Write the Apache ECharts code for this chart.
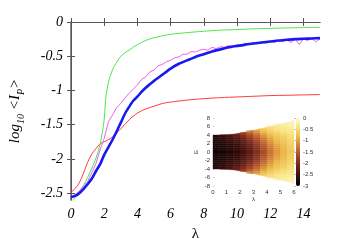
<!DOCTYPE html>
<html>
<head>
<meta charset="utf-8">
<script src="https://cdn.jsdelivr.net/npm/echarts@6/dist/echarts.min.js"></script>
<style>html,body{margin:0;padding:0;background:#fff}#c{width:349px;height:247px}</style>
</head>
<body>
<div id="c"></div>
<script>
// ---- main chart data ----
const xTicks = [0, 2, 4, 6, 8, 10, 12, 14];
const yTicks = [0, -0.5, -1, -1.5, -2, -2.5];

const greenLambda = [0, 0.25, 0.5, 0.75, 1, 1.25, 1.5, 1.75, 1.9, 2.0, 2.1, 2.2, 2.3, 2.45, 2.6, 2.8, 3.0, 3.25, 3.5, 4, 4.5, 5, 6, 7, 8, 9, 10, 11, 12, 13, 14, 15];
const greenLog    = [-2.66, -2.56, -2.47, -2.39, -2.27, -2.14, -1.99, -1.79, -1.60, -1.42, -1.10, -0.95, -0.84, -0.73, -0.65, -0.57, -0.50, -0.45, -0.41, -0.33, -0.27, -0.23, -0.18, -0.155, -0.135, -0.12, -0.11, -0.10, -0.093, -0.087, -0.082, -0.078];

const redLambda = [0, 0.25, 0.5, 0.75, 1, 1.25, 1.5, 1.75, 2, 2.25, 2.5, 2.75, 3, 3.5, 4, 4.5, 5, 5.5, 6, 7, 8, 9, 10, 11, 12, 13, 14, 15];
const redLog    = [-2.49, -2.43, -2.35, -2.21, -2.05, -1.93, -1.85, -1.78, -1.75, -1.72, -1.68, -1.62, -1.56, -1.43, -1.33, -1.27, -1.23, -1.19, -1.17, -1.14, -1.12, -1.105, -1.095, -1.085, -1.075, -1.07, -1.065, -1.06];

const blueLambda = [0, 0.25, 0.5, 0.75, 1, 1.25, 1.5, 1.75, 2, 2.25, 2.5, 2.75, 3, 3.25, 3.5, 3.75, 4, 4.25, 4.5, 4.75, 5, 5.5, 6, 6.5, 7, 7.5, 8, 8.5, 9, 9.5, 10, 10.5, 11, 11.5, 12, 12.5, 13, 13.5, 14, 14.5, 15];
const blueLog    = [-2.56, -2.54, -2.50, -2.44, -2.37, -2.29, -2.18, -2.08, -1.94, -1.83, -1.72, -1.60, -1.47, -1.34, -1.24, -1.15, -1.09, -1.02, -0.96, -0.91, -0.86, -0.77, -0.68, -0.61, -0.56, -0.51, -0.47, -0.43, -0.40, -0.37, -0.35, -0.33, -0.315, -0.30, -0.285, -0.27, -0.26, -0.25, -0.245, -0.24, -0.235];

const magentaLambda = [0, 0.25, 0.5, 0.75, 1, 1.25, 1.5, 1.75, 2, 2.25, 2.5, 2.75, 3, 3.25, 3.5, 3.75, 4, 4.25, 4.5, 4.75, 5, 5.25, 5.5, 5.75, 6, 6.25, 6.5, 6.75, 7, 7.25, 7.5, 7.75, 8, 8.25, 8.5, 8.75, 9, 9.25, 9.5, 9.75, 10, 10.25, 10.5, 10.75, 11, 11.25, 11.5, 11.75, 12, 12.25, 12.5, 12.75, 13, 13.25, 13.5, 13.75, 14, 14.25, 14.5, 14.75, 15];
const magentaLog    = [-2.55, -2.52, -2.47, -2.40, -2.33, -2.20, -2.07, -1.87, -1.70, -1.46, -1.36, -1.25, -1.19, -1.11, -1.04, -0.98, -0.92, -0.84, -0.80, -0.73, -0.70, -0.64, -0.62, -0.58, -0.56, -0.52, -0.51, -0.47, -0.47, -0.43, -0.44, -0.41, -0.40, -0.41, -0.37, -0.39, -0.36, -0.37, -0.34, -0.36, -0.33, -0.35, -0.31, -0.33, -0.30, -0.32, -0.29, -0.31, -0.28, -0.30, -0.27, -0.29, -0.26, -0.30, -0.25, -0.33, -0.25, -0.27, -0.24, -0.29, -0.24];

// ---- inset data ----
const cellLambdaEdges = [0, 0.5, 1, 1.5, 2, 2.5, 3, 3.5, 4, 4.5, 5, 5.5, 6];
const edgeHalfWidth   = [4.0, 4.0, 4.05, 4.2, 4.45, 4.75, 5.1, 5.45, 5.8, 6.2, 6.6, 7.0, 7.5];
const cellEnergyStep = 0.5;
// log10 <I_P> per lambda column, from |E| = 0 outward in bins of 0.5
const heatColumns = [
  [-2.85, -2.85, -2.84, -2.82, -2.80, -2.78, -2.74, -2.68],
  [-2.80, -2.80, -2.79, -2.77, -2.75, -2.72, -2.67, -2.60, -2.50],
  [-2.74, -2.73, -2.72, -2.70, -2.67, -2.63, -2.56, -2.45, -2.35],
  [-2.64, -2.63, -2.61, -2.58, -2.53, -2.47, -2.38, -2.25, -2.10],
  [-2.48, -2.47, -2.44, -2.40, -2.34, -2.26, -2.15, -2.00, -1.82, -1.65],
  [-2.25, -2.23, -2.20, -2.15, -2.08, -1.98, -1.85, -1.70, -1.52, -1.35, -1.20],
  [-1.95, -1.93, -1.90, -1.85, -1.77, -1.67, -1.55, -1.40, -1.25, -1.10, -0.95],
  [-1.62, -1.60, -1.56, -1.50, -1.43, -1.34, -1.23, -1.10, -0.97, -0.85, -0.72, -0.60],
  [-1.30, -1.28, -1.25, -1.20, -1.13, -1.05, -0.96, -0.86, -0.76, -0.66, -0.56, -0.47, -0.40],
  [-1.05, -1.03, -1.00, -0.96, -0.90, -0.84, -0.77, -0.69, -0.61, -0.53, -0.45, -0.38, -0.32, -0.27],
  [-0.84, -0.83, -0.81, -0.78, -0.74, -0.69, -0.63, -0.57, -0.50, -0.43, -0.37, -0.31, -0.26, -0.22],
  [-0.68, -0.67, -0.65, -0.63, -0.60, -0.56, -0.51, -0.46, -0.41, -0.36, -0.31, -0.26, -0.22, -0.18, -0.15]
];
const paletteColors = ['#000000', '#3a0d0c', '#6c2317', '#9e4325', '#cd7634', '#ecb647', '#f9e27a', '#fffad2'];

const zip = (xs, ys) => xs.map((x, i) => [x, ys[i]]);

// cells: [l0, l1, e0, e1, value, edgeLeft, edgeRight, side]
const heatCells = [];
heatColumns.forEach((col, c) => {
  const l0 = cellLambdaEdges[c], l1 = cellLambdaEdges[c + 1];
  col.forEach((v, b) => {
    const e0 = b * cellEnergyStep, e1 = (b + 1) * cellEnergyStep;
    heatCells.push([l0, l1, e0, e1, v, edgeHalfWidth[c], edgeHalfWidth[c + 1], 1]);
    heatCells.push([l0, l1, -e1, -e0, v, edgeHalfWidth[c], edgeHalfWidth[c + 1], -1]);
  });
});

const serif = 'Liberation Serif';
const mainLabel = { fontFamily: serif, fontStyle: 'italic', fontSize: 14, color: '#000' };
const axisLineStyle = { lineStyle: { color: '#555', width: 1 } };
const smallLabel = { fontFamily: 'Liberation Sans', fontSize: 6, color: '#333' };

const chart = echarts.init(document.getElementById('c'), null, { renderer: 'canvas' });
chart.setOption({
  animation: false,
  backgroundColor: '#fff',
  grid: [
    { left: 70, top: 22, right: 29, bottom: 46 },
    { left: 213, top: 118, width: 81, height: 68 },
    { left: 296, top: 118, width: 4, height: 68 }
  ],
  visualMap: {
    type: 'continuous', seriesIndex: 4, dimension: 4, min: -3, max: 0,
    inRange: { color: paletteColors }, calculable: false, show: true,
    left: 296, top: 118, itemWidth: 4, itemHeight: 68, padding: 0, text: null,
    showLabel: false
  },
  xAxis: [
    { type: 'value', gridIndex: 0, min: 0, max: 15, axisLine: axisLineStyle,
      axisTick: { inside: true, length: 4, customValues: xTicks, lineStyle: { color: '#555' } },
      axisLabel: Object.assign({ customValues: xTicks, margin: 7 }, mainLabel),
      splitLine: { show: false },
      name: 'λ', nameLocation: 'middle', nameGap: 27,
      nameTextStyle: { fontFamily: serif, fontSize: 15, color: '#000' } },
    { type: 'value', gridIndex: 0, position: 'top', min: 0, max: 15, axisLine: axisLineStyle,
      axisTick: { inside: true, length: 4, customValues: xTicks, lineStyle: { color: '#555' } },
      axisLabel: { show: false }, splitLine: { show: false } },
    { type: 'value', gridIndex: 1, min: 0, max: 6, interval: 1,
      axisLine: { show: false }, axisTick: { show: true, inside: true, length: 1.5, lineStyle: { color: '#999', width: 0.5 } },
      axisLabel: Object.assign({ margin: 3 }, smallLabel), splitLine: { show: false },
      name: 'λ', nameLocation: 'middle', nameGap: 9, nameTextStyle: { fontSize: 6, color: '#333' } },
    { type: 'value', gridIndex: 2, min: 0, max: 1, show: false }
  ],
  yAxis: [
    { type: 'value', gridIndex: 0, min: -2.6, max: 0, axisLine: { lineStyle: { color: '#666', width: 1.5 } },
      axisTick: { inside: true, length: 4, customValues: yTicks, lineStyle: { color: '#555' } },
      axisLabel: Object.assign({ customValues: yTicks, margin: 8 }, mainLabel),
      splitLine: { show: false },
      name: '{i|log}{s|10}{i| <I}{s|P}{i|>}', nameLocation: 'middle', nameRotate: 90, nameGap: 48,
      nameTextStyle: { rich: {
        i: { fontFamily: serif, fontStyle: 'italic', fontSize: 15, lineHeight: 16, verticalAlign: 'bottom', color: '#000' },
        s: { fontFamily: serif, fontStyle: 'italic', fontSize: 10, lineHeight: 10, verticalAlign: 'bottom', padding: [0, 0, -3, 0], color: '#000' }
      } } },
    { type: 'value', gridIndex: 0, position: 'right', min: -2.6, max: 0, axisLine: axisLineStyle,
      axisTick: { inside: true, length: 4, customValues: yTicks, lineStyle: { color: '#555' } },
      axisLabel: { show: false }, splitLine: { show: false } },
    { type: 'value', gridIndex: 1, min: -8, max: 8, interval: 2,
      axisLine: { show: false }, axisTick: { show: true, inside: true, length: 1.5, lineStyle: { color: '#999', width: 0.5 } },
      axisLabel: Object.assign({ margin: 3 }, smallLabel), splitLine: { show: false },
      name: 'E', nameLocation: 'middle', nameGap: 14, nameRotate: 90, nameTextStyle: { fontSize: 6, color: '#333' } },
    { type: 'value', gridIndex: 2, position: 'right', min: -3, max: 0, interval: 0.5,
      axisLine: { show: false }, axisTick: { show: true, inside: true, length: 1.5, lineStyle: { color: '#666', width: 0.5 } },
      axisLabel: Object.assign({ margin: 3 }, smallLabel), splitLine: { show: false } }
  ],
  series: [
    { type: 'line', xAxisIndex: 0, yAxisIndex: 0, data: zip(redLambda, redLog), smooth: 0.3, showSymbol: false,
      lineStyle: { color: '#ff3a3a', width: 1 }, clip: true, z: 2 },
    { type: 'line', xAxisIndex: 0, yAxisIndex: 0, data: zip(greenLambda, greenLog), smooth: 0.3, showSymbol: false,
      lineStyle: { color: '#4be84b', width: 1 }, clip: true, z: 3 },
    { type: 'line', xAxisIndex: 0, yAxisIndex: 0, data: zip(magentaLambda, magentaLog), showSymbol: false,
      lineStyle: { color: '#f25ef2', width: 1 }, clip: true, z: 4 },
    { type: 'line', xAxisIndex: 0, yAxisIndex: 0, data: zip(blueLambda, blueLog), smooth: 0.2, showSymbol: false,
      lineStyle: { color: '#1818f0', width: 2.6 }, clip: true, z: 5 },
    { type: 'custom', xAxisIndex: 2, yAxisIndex: 2, data: heatCells,
      encode: { x: [0, 1], y: [2, 3] },
      renderItem: function (params, api) {
        const l0 = api.value(0), l1 = api.value(1);
        const a = Math.abs(api.value(2)), b = Math.abs(api.value(3));
        const inner = Math.min(a, b), outer = Math.max(a, b);
        const side = api.value(7);
        const hw0 = api.value(5), hw1 = api.value(6);
        const oL = Math.max(inner, Math.min(outer, hw0));
        const oR = Math.max(inner, Math.min(outer, hw1));
        const pts = [
          api.coord([l0, side * inner]),
          api.coord([l1, side * inner]),
          api.coord([l1, side * oR]),
          api.coord([l0, side * oL])
        ];
        return { type: 'polygon', shape: { points: pts },
          style: { fill: api.visual('color'), stroke: api.visual('color'), lineWidth: 0.4 } };
      } }
  ]
});
</script>
</body>
</html>
